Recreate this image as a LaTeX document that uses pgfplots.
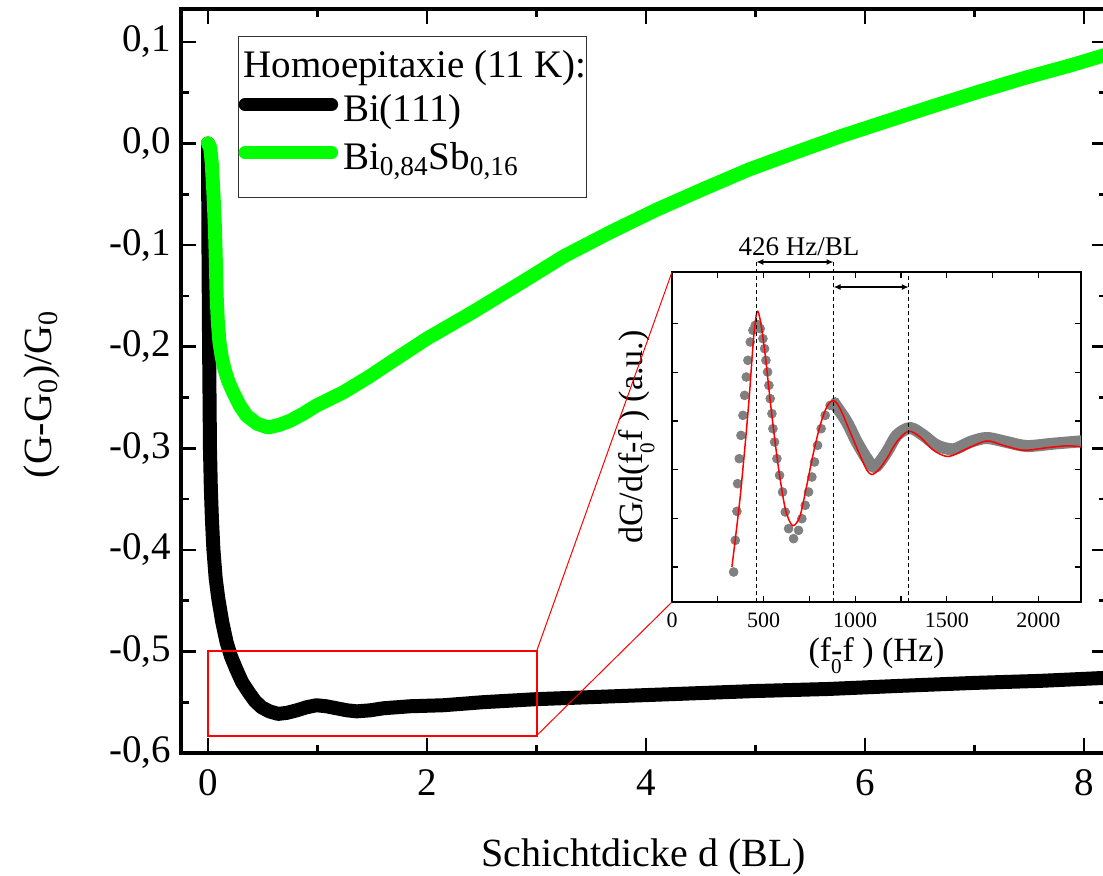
\documentclass[border=0pt]{standalone}
\usepackage{fontspec}
\setmainfont{Liberation Serif}
\usepackage{graphicx}
\usepackage{pgfplots}
\pgfplotsset{compat=1.18}
\usetikzlibrary{arrows.meta}
\definecolor{bigreen}{RGB}{0,255,0}
\definecolor{dotgray}{RGB}{128,128,128}
% lowered subscript zero with the following hyphen set over it
\newcommand{\fnull}{\rlap{\raisebox{-0.75ex}{\scalebox{0.62}{0}}}}

\begin{document}
\begin{tikzpicture}
% ---------------- main panel: conductance vs. film thickness ----------------
\begin{axis}[
  name=main,
  scale only axis, width=462.75pt, height=372pt,
  xmin=-0.2466, xmax=8.205, ymin=-0.6, ymax=0.1324,
  xtick={0,2,4,6,8}, minor xtick={1,3,5,7},
  ytick={-0.6,-0.5,-0.4,-0.3,-0.2,-0.1,0,0.1},
  minor ytick={-0.55,-0.45,-0.35,-0.25,-0.15,-0.05,0.05},
  tick align=inside,
  major tick length=7.5pt, minor tick length=4pt,
  tick style={black, line width=1.3pt},
  axis line style={line width=2pt},
  /pgf/number format/assume math mode=true,
  tick label style={font=\fontsize{19.5}{23}\selectfont},
  yticklabel style={/pgf/number format/fixed, /pgf/number format/fixed zerofill,
    /pgf/number format/precision=1, /pgf/number format/use comma, xshift=-1.5pt},
  xticklabel style={yshift=-5pt},
  label style={font=\fontsize{20}{24}\selectfont},
  xlabel={Schichtdicke d (BL)},
  xlabel style={at={(axis description cs:0.5,-0.1532)}, anchor=base},
  ylabel={(G-G\textsubscript{0})/G\textsubscript{0}},
  ylabel style={at={(axis description cs:-0.1502,0.482)}, anchor=center},
  legend style={at={(0.0616,0.9637)}, anchor=north west, draw=black!80,
    line width=0.6pt, fill=white, font=\fontsize{19.5}{24}\selectfont,
    inner xsep=0pt, inner ysep=2.5pt, nodes={inner sep=0pt},
    column sep=2.5pt, row sep=0pt},
  legend cell align=left,
  legend image code/.code={%
    \draw[#1, line width=6.5pt, line cap=round] (0pt,0pt) -- (43.25pt,0pt);
    \path[draw=none, fill=none] (-3.25pt,-12pt) (46.5pt,12pt);},
]
\addlegendimage{empty legend}
\addlegendentry{\rule[-6pt]{0pt}{24pt}\hspace*{-49.75pt}Homoepitaxie (11 K):}

\addplot[black, line width=7pt, line join=round, line cap=round] table {
x y
0.000 0.000
0.002 -0.050
0.004 -0.100
0.007 -0.150
0.010 -0.200
0.014 -0.250
0.018 -0.300
0.026 -0.340
0.036 -0.370
0.049 -0.399
0.070 -0.428
0.094 -0.448
0.130 -0.471
0.170 -0.491
0.210 -0.505
0.260 -0.518
0.310 -0.530
0.370 -0.540
0.430 -0.549
0.490 -0.555
0.560 -0.559
0.640 -0.5615
0.720 -0.5605
0.810 -0.558
0.900 -0.555
0.990 -0.553
1.080 -0.554
1.175 -0.556
1.270 -0.558
1.360 -0.559
1.480 -0.558
1.600 -0.556
1.845 -0.554
2.150 -0.553
2.510 -0.550
3.000 -0.547
3.500 -0.545
4.000 -0.543
4.500 -0.541
5.000 -0.539
5.660 -0.537
6.300 -0.534
7.000 -0.531
7.600 -0.529
8.205 -0.526
};
\addlegendentry{\rule[-6pt]{0pt}{24pt}Bi(111)}

\addplot[bigreen, line width=7pt, line join=round, line cap=round] table {
x y
0.000 0.000
0.020 -0.004
0.034 -0.019
0.050 -0.050
0.064 -0.085
0.072 -0.118
0.079 -0.150
0.090 -0.176
0.105 -0.196
0.125 -0.210
0.150 -0.222
0.185 -0.234
0.230 -0.245
0.290 -0.258
0.353 -0.268
0.450 -0.276
0.550 -0.2796
0.650 -0.277
0.750 -0.273
0.870 -0.266
0.990 -0.258
1.235 -0.245
1.480 -0.229
1.660 -0.216
2.000 -0.192
2.410 -0.1665
2.830 -0.139
3.250 -0.111
3.680 -0.087
4.100 -0.065
4.520 -0.045
4.940 -0.0256
5.360 -0.009
5.780 0.0072
6.200 0.022
6.620 0.0367
7.040 0.051
7.460 0.0646
7.880 0.077
8.205 0.0875
};
\addlegendentry{\rule[-6pt]{0pt}{24pt}Bi\textsubscript{0,84}Sb\textsubscript{0,16}}
% spacer row below the entries
\addlegendimage{empty legend}
\addlegendentry{\rule{0pt}{6.5pt}}

% zoomed region shown in the inset
\draw[red, line width=1pt] (axis cs:0,-0.5) rectangle (axis cs:3,-0.583);
\coordinate (zoomTR) at (axis cs:3,-0.5);
\coordinate (zoomBR) at (axis cs:3,-0.583);
\end{axis}

\path (main.south west) ++(245.5pt,75.5pt) coordinate (insetSW);

% ---------------- inset: derivative of the oscillations ----------------
\begin{axis}[
  name=inset,
  at={(insetSW)}, anchor=south west,
  scale only axis, width=204.5pt, height=165pt,
  xmin=0, xmax=2233, ymin=0.281, ymax=7.062,
  clip mode=individual,
  xtick={0,500,1000,1500,2000}, xticklabels={0,500,1000,1500,2000},
  minor xtick={250,750,1250,1750},
  ytick={1,2,3,4,5,6}, yticklabels={},
  tick align=inside, major tick length=3pt, minor tick length=3pt,
  tick style={black, line width=0.6pt},
  axis line style={line width=0.85pt},
  tick label style={font=\fontsize{11}{13}\selectfont},
  xticklabel style={yshift=-2pt},
  label style={font=\fontsize{17}{20}\selectfont},
  xlabel={(f\fnull-f ) (Hz)},
  xlabel style={at={(axis description cs:0.5,-0.1818)}, anchor=base},
  ylabel={dG/d(f\fnull-f ) (a.u.)},
  ylabel style={at={(axis description cs:-0.0863,0.5)}, anchor=center},
]
% measured points (early, well separated)
\addplot[only marks, mark=*, mark size=2.2pt, dotgray, mark options={draw=dotgray, fill=dotgray}] table {
f v
336.4 0.28
336.4 0.897
345.5 1.548
354.5 2.144
358.2 2.712
367.3 3.226
376.4 3.705
387.3 4.116
396.4 4.527
405.5 4.904
414.5 5.247
427.3 5.623
441.8 5.863
454.5 5.966
467.3 5.979
481.8 5.897
496.4 5.692
505.5 5.486
512.7 5.247
521.8 5.007
529.1 4.733
536.4 4.459
545.5 4.151
550.9 3.842
560.0 3.568
572.7 3.226
587.3 2.884
603.6 2.541
618.2 2.130
636.4 1.788
663.6 1.582
690.9 1.753
709.1 1.993
727.3 2.267
745.5 2.541
763.6 2.849
778.2 3.158
794.5 3.500
814.5 3.842
836.4 4.116
863.6 4.322
890.9 4.390
};
% measured points (dense, later part)
\addplot[dotgray, line width=6pt, line cap=round, line join=round, smooth] table {
f v
890.9 4.336
954.5 3.979
1009.1 3.568
1063.6 3.226
1109.1 3.055
1172.7 3.363
1227.3 3.705
1300.0 3.856
1372.7 3.705
1445.5 3.500
1536.4 3.418
1627.3 3.568
1718.2 3.651
1827.3 3.568
1936.4 3.486
2081.8 3.534
2232.7 3.582
};
% fit
\addplot[red, line width=0.75pt, smooth] table {
f v
327 1.00
373 2.47
418 4.32
445 5.69
464 6.24
482 6.07
509 5.35
545 4.12
582 3.02
618 2.20
649 1.89
669 1.86
700 2.06
736 2.68
773 3.36
809 3.91
845 4.29
882 4.42
918 4.25
973 3.77
1027 3.29
1064 2.99
1091 2.90
1127 2.99
1173 3.23
1227 3.57
1291 3.79
1355 3.67
1427 3.40
1509 3.27
1609 3.43
1718 3.59
1809 3.50
1918 3.40
2045 3.45
2155 3.49
2233 3.47
};
% period markers
\draw[black, line width=0.5pt, dash pattern=on 2pt off 1.5pt] (axis cs:460,0.281) -- (axis cs:460,7.267);
\draw[black, line width=0.5pt, dash pattern=on 2pt off 1.5pt] (axis cs:882,0.281) -- (axis cs:882,7.267);
\draw[black, line width=0.5pt, dash pattern=on 2pt off 1.5pt] (axis cs:1293,0.281) -- (axis cs:1293,7.062);
\draw[black, line width=0.7pt, {Latex[length=3.5pt,width=3pt]}-{Latex[length=3.5pt,width=3pt]}] (axis cs:460,7.267) -- (axis cs:882,7.267);
\draw[black, line width=0.7pt, {Latex[length=3.5pt,width=3pt]}-{Latex[length=3.5pt,width=3pt]}] (axis cs:882,6.753) -- (axis cs:1293,6.753);
\node[font=\fontsize{13.5}{16}\selectfont, anchor=base, inner sep=0pt] at (axis cs:693,7.40) {426 Hz/BL};
\end{axis}

% connectors from the marked region to the inset
\draw[red, line width=0.5pt] (zoomTR) -- (inset.north west);
\draw[red, line width=0.5pt] (zoomBR) -- (inset.south west);

\pgfresetboundingbox
\path[use as bounding box] ([shift={(-90.5pt,-61.5pt)}]main.south west) rectangle ([shift={(-1.75pt,4.5pt)}]main.north east);
\end{tikzpicture}
\end{document}
